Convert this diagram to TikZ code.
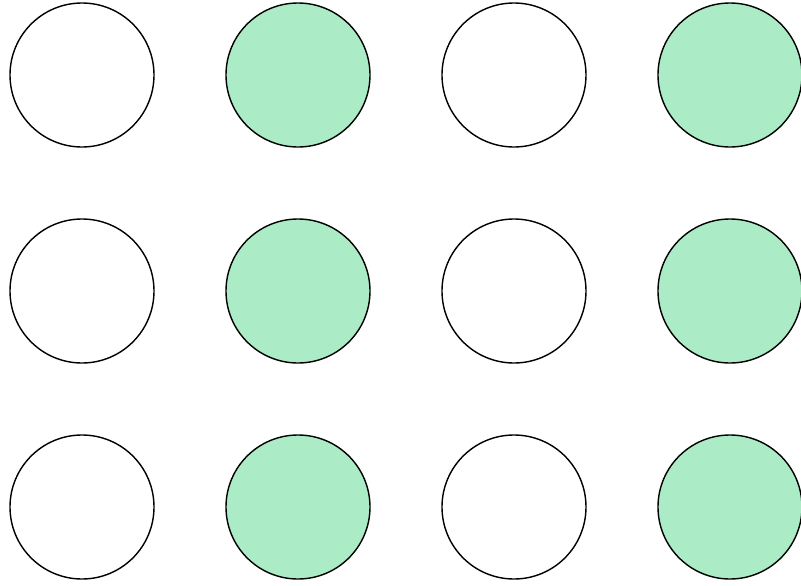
\documentclass[tikz,border=0pt]{standalone}
\definecolor{mint}{HTML}{ABEBC6}
\begin{document}
\begin{tikzpicture}[x=0.03cm, y=-0.03cm, line join=round, line cap=round]
				\tikzset{disc/.style={circle, draw=black, line width=1.2pt, inner sep=0pt, minimum size=4.32cm}}
				\useasboundingbox (0,0) rectangle (801,586);
				%\draw[color=gray!50,dashed] (0,0) grid[step=72] (801,586);
				\foreach \r/\y in {1/75, 2/291, 3/507} {
					\foreach \c/\x/\f in {1/82/white, 2/298/mint, 3/514/white, 4/730/mint} {
						\node[disc, fill=\f] (c-\r-\c) at (\x,\y) {};
					}
				}
			\end{tikzpicture}
\end{document}
